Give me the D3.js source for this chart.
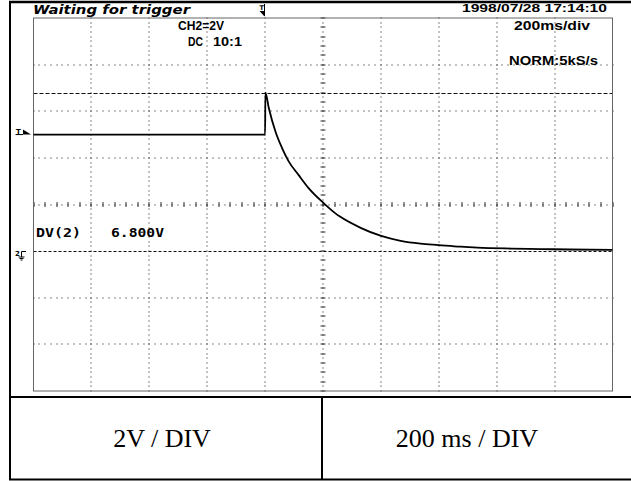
<!DOCTYPE html>
<html>
<head>
<meta charset="utf-8">
<script src="https://cdn.jsdelivr.net/npm/d3@7"></script>
<style>
  html, body { margin: 0; padding: 0; background: #fff; }
  svg { display: block; }
</style>
</head>
<body>
<script>
// ---------------- data ----------------
const timeDivs = [-800, -600, -400, -200, 0, 200, 400, 600, 800, 1000, 1200]; // ms, 200 ms/div
const voltDivs = [-6, -4, -2, 0, 2, 4, 6, 8, 10];                             // V, 2 V/div
const groundLevel = 0;         // channel 2 ground marker
const cursorLevels = [0, 6.8]; // DV(2) cursors
const traceTime = [-800, -600, -400, -200, -1, 0, 1, 13, 36, 59, 82, 116, 151, 203, 243, 260, 330, 401, 468, 537, 600, 675, 733, 850, 951, 1050, 1200];
const traceVolt = [5.0, 5.0, 5.0, 5.0, 5.0, 5.0, 6.8, 6.13, 5.12, 4.41, 3.84, 3.26, 2.69, 2.05, 1.62, 1.47, 1.0, 0.65, 0.44, 0.32, 0.26, 0.19, 0.15, 0.11, 0.09, 0.07, 0.05];
const triggerTime = 0;
const triggerLevel = 5.0;
const labels = {
  status: "Waiting for trigger",
  date: "1998/07/28  17:14:10",
  ch: "CH2=2V",
  coupling: "DC",
  probe: "10:1",
  timebase: "200ms/div",
  mode: "NORM:5kS/s",
  dvName: "DV(2)",
  dvValue: "6.800V",
  volt: "2V / DIV",
  time: "200 ms / DIV"
};

// ---------------- layout ----------------
const W = 631, H = 481;
const sx0 = 33.5, sx1 = 612.5, sy0 = 18, sy1 = 391;

const svg = d3.select("body").append("svg").attr("width", W).attr("height", H);

const x = d3.scaleLinear().domain([d3.min(timeDivs), d3.max(timeDivs)]).range([sx0, sx1]);
const y = d3.scaleLinear().domain([d3.min(voltDivs), d3.max(voltDivs)]).range([sy1, sy0]);
const tStep = timeDivs[1] - timeDivs[0];
const vStep = voltDivs[1] - voltDivs[0];
const tCenter = timeDivs[5], vCenter = voltDivs[4];

// ---------- grid dots ----------
const grid = svg.append("g");
const innerT = timeDivs.slice(1, -1);
const innerV = voltDivs.slice(1, -1);
const fineT = d3.range(x.domain()[0], x.domain()[1] + 0.001, tStep / 10);
const fineV = d3.range(y.domain()[0], y.domain()[1] + 0.001, vStep / 10);

innerV.filter(v => v !== groundLevel).forEach(v => {
  grid.selectAll(null).data(fineT).enter().append("rect")
    .attr("x", d => Math.round(x(d)) - 0.5).attr("y", Math.round(y(v)) - 0.5)
    .attr("width", 1).attr("height", 1).attr("fill", "#111");
});
innerT.forEach(t => {
  grid.selectAll(null).data(fineV).enter().append("rect")
    .attr("x", Math.round(x(t)) - 0.5).attr("y", d => Math.round(y(d)) - 0.5)
    .attr("width", 1).attr("height", 1).attr("fill", "#111");
});
// center crosshair ticks
const tickT = d3.range(x.domain()[0], x.domain()[1] + 0.001, tStep / 5);
grid.selectAll(null).data(tickT).enter().append("line")
  .attr("x1", d => Math.round(x(d))).attr("x2", d => Math.round(x(d)))
  .attr("y1", y(vCenter) - 2.5).attr("y2", y(vCenter) + 2.5)
  .attr("stroke", "#333").attr("stroke-width", 1);
const tickV = d3.range(y.domain()[0], y.domain()[1] + 0.001, vStep / 5);
grid.selectAll(null).data(tickV).enter().append("line")
  .attr("x1", x(tCenter) - 2.5).attr("x2", x(tCenter) + 2.5)
  .attr("y1", d => Math.round(y(d))).attr("y2", d => Math.round(y(d)))
  .attr("stroke", "#333").attr("stroke-width", 1);

// cursor dashed lines
svg.append("line").attr("x1", sx0).attr("x2", sx1)
  .attr("y1", Math.round(y(cursorLevels[1])) + 0.5).attr("y2", Math.round(y(cursorLevels[1])) + 0.5)
  .attr("stroke", "#111").attr("stroke-width", 1).attr("stroke-dasharray", "4,2");
svg.append("line").attr("x1", sx0).attr("x2", sx1)
  .attr("y1", Math.round(y(cursorLevels[0])) + 0.5).attr("y2", Math.round(y(cursorLevels[0])) + 0.5)
  .attr("stroke", "#111").attr("stroke-width", 1).attr("stroke-dasharray", "3,2");

// screen frame
svg.append("rect").attr("x", sx0).attr("y", sy0).attr("width", sx1 - sx0).attr("height", sy1 - sy0)
  .attr("fill", "none").attr("stroke", "#666").attr("stroke-width", 1);

// ---------- trace ----------
const pts = traceTime.map((t, i) => [t, traceVolt[i]]);
svg.append("path").datum(pts)
  .attr("d", d3.line().x(d => x(d[0])).y(d => y(d[1])).curve(d3.curveMonotoneX))
  .attr("fill", "none").attr("stroke", "#000").attr("stroke-width", 1.8)
  .attr("stroke-linejoin", "round");

// ---------- markers ----------
const ty = y(triggerLevel);
svg.append("text").attr("x", 16).attr("y", ty - 0.5).text("T")
  .attr("font-family", "DejaVu Sans").attr("font-weight", "bold").attr("font-size", 7);
svg.append("line").attr("x1", 15.5).attr("x2", 23).attr("y1", ty).attr("y2", ty).attr("stroke", "#000");
svg.append("path").attr("d", `M23,${ty - 5} L31,${ty} L23,${ty} Z`).attr("fill", "#000");

const gy = Math.round(y(groundLevel)) + 0.5;
svg.append("text").attr("x", 15).attr("y", gy + 4).text("2")
  .attr("font-family", "DejaVu Sans").attr("font-weight", "bold").attr("font-size", 7);
svg.append("path").attr("d", `M26,${gy} H21.5 V${gy + 5.5} M18.5,${gy + 5.5} H24.5 M19.5,${gy + 7} H23.5 M20.5,${gy + 8.5} H22.5`)
  .attr("fill", "none").attr("stroke", "#000").attr("stroke-width", 1);

const tx = Math.round(x(triggerTime)) - 0.5;
svg.append("text").attr("x", tx - 5).attr("y", 10).text("T")
  .attr("font-family", "DejaVu Sans").attr("font-weight", "bold").attr("font-size", 6.5);
svg.append("line").attr("x1", tx).attr("x2", tx).attr("y1", 4).attr("y2", 16).attr("stroke", "#000");
svg.append("path").attr("d", `M${tx - 5},${11} L${tx},${11} L${tx},${16.5} Z`).attr("fill", "#000");

// ---------- texts ----------
function txt(s, xx, yy, len, opts) {
  const o = Object.assign({ family: "Liberation Sans", size: 12, weight: "bold", style: "normal" }, opts || {});
  svg.append("text").attr("x", xx).attr("y", yy).text(s)
    .attr("font-family", o.family).attr("font-size", o.size)
    .attr("font-weight", o.weight).attr("font-style", o.style)
    .attr("textLength", len).attr("lengthAdjust", "spacingAndGlyphs").attr("fill", "#000");
}
txt(labels.status, 33, 14, 157, { family: "DejaVu Sans", size: 12.5, style: "italic" });
txt(labels.date, 462, 12, 145, { size: 11.5 });
txt(labels.ch, 178, 29.5, 46);
txt(labels.coupling, 188, 45.5, 15);
txt(labels.probe, 213, 45.5, 29);
txt(labels.timebase, 514, 30, 76);
txt(labels.mode, 509, 64.5, 89);
txt(labels.dvName, 36, 236.5, 45, { family: "DejaVu Sans Mono", size: 12 });
txt(labels.dvValue, 111, 236.5, 53, { family: "DejaVu Sans Mono", size: 12 });

// ---------- outer frame / table ----------
const frame = svg.append("g").attr("stroke", "#000").attr("fill", "none");
frame.append("line").attr("x1", 9).attr("x2", W).attr("y1", 2).attr("y2", 2).attr("stroke-width", 2.5);
frame.append("line").attr("x1", 10).attr("x2", 10).attr("y1", 1).attr("y2", 480).attr("stroke-width", 2);
frame.append("line").attr("x1", 9).attr("x2", W).attr("y1", 397).attr("y2", 397).attr("stroke-width", 2);
frame.append("line").attr("x1", 9).attr("x2", W).attr("y1", 479.5).attr("y2", 479.5).attr("stroke-width", 2);
frame.append("line").attr("x1", 322).attr("x2", 322).attr("y1", 397).attr("y2", 480).attr("stroke-width", 2);

svg.append("text").attr("x", 162).attr("y", 446.5).attr("text-anchor", "middle").text(labels.volt)
  .attr("font-family", "Liberation Serif").attr("font-size", 26);
svg.append("text").attr("x", 467).attr("y", 446.5).attr("text-anchor", "middle").text(labels.time)
  .attr("font-family", "Liberation Serif").attr("font-size", 26);
</script>
</body>
</html>
